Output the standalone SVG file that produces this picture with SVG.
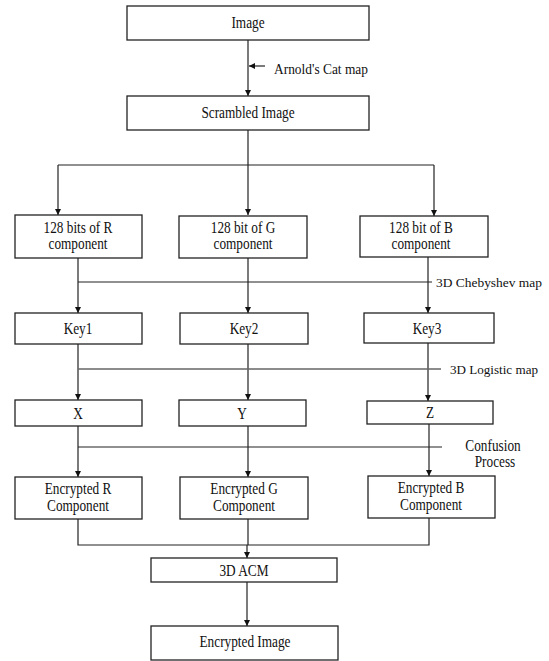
<svg xmlns="http://www.w3.org/2000/svg" width="549" height="661" viewBox="0 0 549 661">
<style>
.box{fill:#fff;stroke:#222;stroke-width:1.3}
.ln{fill:none;stroke:#222;stroke-width:1.2}
.lg{fill:none;stroke:#666;stroke-width:1.5}
text{font-family:"Liberation Serif","Times New Roman",serif;font-size:16px;fill:#111}
.c{text-anchor:middle}
.s{font-size:13px}
</style>
<defs>
<marker id="ah" viewBox="0 0 10 10" refX="10" refY="5" markerWidth="6" markerHeight="6" markerUnits="userSpaceOnUse" orient="auto">
<path d="M0,0 L10,5 L0,10 z" fill="#111"/>
</marker>
</defs>
<rect width="549" height="661" fill="#fff"/>
<g id="connectors">
<line class="ln" x1="248" y1="40" x2="248" y2="96" marker-end="url(#ah)"/>
<line class="ln" x1="265" y1="66" x2="249" y2="66" marker-end="url(#ah)"/>
<polyline class="ln" points="248,130 248,165"/>
<line class="ln" x1="58" y1="165" x2="434" y2="165"/>
<polyline class="ln" points="58,165 58,215" marker-end="url(#ah)"/>
<polyline class="ln" points="248,165 248,215" marker-end="url(#ah)"/>
<polyline class="ln" points="434,165 434,216" marker-end="url(#ah)"/>
<line class="ln" x1="78" y1="258" x2="78" y2="313" marker-end="url(#ah)"/>
<line class="ln" x1="248" y1="258" x2="248" y2="313" marker-end="url(#ah)"/>
<line class="ln" x1="428" y1="257" x2="428" y2="313" marker-end="url(#ah)"/>
<line class="ln" x1="78" y1="282" x2="432" y2="282"/>
<line class="ln" x1="78" y1="344" x2="78" y2="400" marker-end="url(#ah)"/>
<line class="ln" x1="248" y1="344" x2="248" y2="400" marker-end="url(#ah)"/>
<line class="ln" x1="428" y1="343" x2="428" y2="401" marker-end="url(#ah)"/>
<line class="lg" x1="78" y1="369" x2="441" y2="369"/>
<line class="ln" x1="78" y1="426" x2="78" y2="477" marker-end="url(#ah)"/>
<line class="ln" x1="248" y1="426" x2="248" y2="477" marker-end="url(#ah)"/>
<line class="ln" x1="429" y1="424" x2="429" y2="476" marker-end="url(#ah)"/>
<line class="ln" x1="78" y1="447" x2="442" y2="447"/>
<polyline class="ln" points="78,519 78,545 429,545 429,518"/>
<line class="ln" x1="248" y1="519" x2="248" y2="545"/>
<line class="ln" x1="247" y1="545" x2="247" y2="558" marker-end="url(#ah)"/>
<line class="ln" x1="247" y1="582" x2="247" y2="626" marker-end="url(#ah)"/>
<text class="s" x="274" y="74" style="font-size:14px" textLength="94" lengthAdjust="spacingAndGlyphs">Arnold's Cat map</text>
<text class="s" x="436" y="287" style="font-size:12.5px" textLength="106" lengthAdjust="spacingAndGlyphs">3D Chebyshev map</text>
<text class="s" x="450" y="374" textLength="88" lengthAdjust="spacingAndGlyphs">3D Logistic map</text>
<text transform="translate(493,451) scale(0.83,1)" class="c">Confusion</text>
<text transform="translate(495,467) scale(0.83,1)" class="c">Process</text>
</g>
<g id="image"><rect class="box" x="127" y="6" width="242" height="34"/><text class="c" transform="translate(248,28) scale(0.83,1)">Image</text></g>
<g id="scrambled"><rect class="box" x="127" y="96" width="242" height="34"/><text class="c" transform="translate(248,118) scale(0.83,1)">Scrambled Image</text></g>
<g id="r128"><rect class="box" x="15" y="215" width="127" height="43"/><text class="c" transform="translate(78,233) scale(0.83,1)">128 bits of R</text><text class="c" transform="translate(78,249) scale(0.83,1)">component</text></g>
<g id="g128"><rect class="box" x="179" y="216" width="128" height="42"/><text class="c" transform="translate(243,233) scale(0.83,1)">128 bit of G</text><text class="c" transform="translate(243,249) scale(0.83,1)">component</text></g>
<g id="b128"><rect class="box" x="360" y="216" width="128" height="41"/><text class="c" transform="translate(421,233) scale(0.83,1)">128 bit of B</text><text class="c" transform="translate(421,249) scale(0.83,1)">component</text></g>
<g id="key1"><rect class="box" x="15" y="313" width="127" height="31"/><text class="c" transform="translate(78,334) scale(0.83,1)">Key1</text></g>
<g id="key2"><rect class="box" x="180" y="313" width="128" height="31"/><text class="c" transform="translate(244,334) scale(0.83,1)">Key2</text></g>
<g id="key3"><rect class="box" x="364" y="313" width="130" height="30"/><text class="c" transform="translate(427,334) scale(0.83,1)">Key3</text></g>
<g id="x"><rect class="box" x="15" y="400" width="127" height="26"/><text class="c" transform="translate(78,419) scale(0.83,1)">X</text></g>
<g id="y"><rect class="box" x="179" y="400" width="127" height="26"/><text class="c" transform="translate(242,419) scale(0.83,1)">Y</text></g>
<g id="z"><rect class="box" x="367" y="401" width="126" height="23"/><text class="c" transform="translate(430,418) scale(0.83,1)">Z</text></g>
<g id="encr"><rect class="box" x="15" y="477" width="127" height="42"/><text class="c" transform="translate(78,494) scale(0.83,1)">Encrypted R</text><text class="c" transform="translate(78,511) scale(0.83,1)">Component</text></g>
<g id="encg"><rect class="box" x="180" y="477" width="128" height="42"/><text class="c" transform="translate(244,494) scale(0.83,1)">Encrypted G</text><text class="c" transform="translate(244,511) scale(0.83,1)">Component</text></g>
<g id="encb"><rect class="box" x="368" y="476" width="127" height="42"/><text class="c" transform="translate(431,493) scale(0.83,1)">Encrypted B</text><text class="c" transform="translate(431,510) scale(0.83,1)">Component</text></g>
<g id="acm"><rect class="box" x="151" y="558" width="186" height="24"/><text class="c" transform="translate(244,576) scale(0.83,1)">3D ACM</text></g>
<g id="encimg"><rect class="box" x="151" y="626" width="187" height="34"/><text class="c" transform="translate(245,647) scale(0.83,1)">Encrypted Image</text></g>
</svg>
